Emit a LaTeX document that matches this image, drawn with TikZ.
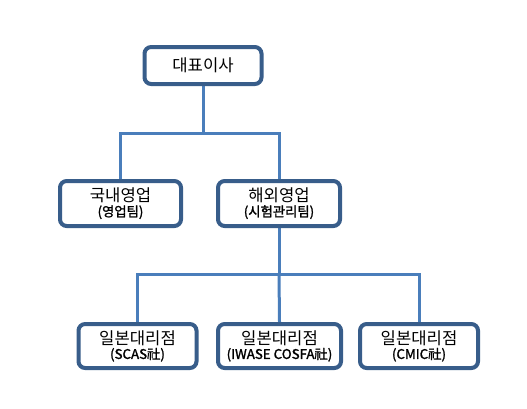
\documentclass[tikz,border=0pt]{standalone}
\usepackage{fontspec}
\setmainfont{Noto Sans CJK KR}[AutoFakeBold=1.5]
\usepackage{tikz}
\usetikzlibrary{calc, positioning, backgrounds}
\definecolor{boxblue}{HTML}{385D8A}
\definecolor{lineblue}{HTML}{4A7EBB}
\newcommand{\SubLbl}[1]{{\fontsize{10}{11}\selectfont\bfseries #1}}

\begin{document}
\begin{tikzpicture}[x=0.75pt, y=-0.75pt]
    \tikzset{
      orgbox/.style={
        draw=boxblue,
        line width=3pt,
        fill=white,
        rounded corners=5pt,
        align=center,
        inner sep=0pt,
        font=\fontsize{12.5}{13}\selectfont,
        % minimum width=90pt,
      },
      conn/.style={
        draw=lineblue,
        line width=2.25pt,
      }
    }
    \useasboundingbox (0,0) rectangle (527,408);

    % Levels
    \node[orgbox, minimum width=87.75pt, minimum height=27.75pt]
        (ceo) at (203,65.5) {대표이사};

    \node[orgbox, minimum width=90.75pt, minimum height=33.75pt]
        (dom) at (120.5,203.5) {국내영업\\[-2pt] \SubLbl{(영업팀)}};
    \node[orgbox, minimum width=91.5pt, minimum height=33.75pt]
        (ovs) at (279,203.5) {해외영업\\[-2pt] \SubLbl{(시험관리팀)}};

    \node[orgbox, minimum width=88.5pt, minimum height=33pt]
        (jpa) at (137.5,346) {일본대리점\\[-2pt] \SubLbl{(SCAS社)}};
    \node[orgbox, minimum width=92.25pt, minimum height=33pt]
        (jpb) at (279.5,346) {일본대리점\\[-2pt] \SubLbl{(IWASE COSFA社)}};
    \node[orgbox, minimum width=88.5pt, minimum height=33pt]
        (jpc) at (419,346) {일본대리점\\[-2pt] \SubLbl{(CMIC社)}};

    \coordinate (bus1) at (203,133);
    \coordinate (bus2) at (279,274);

    % Connectors
    \begin{scope}[on background layer]
    \draw[conn] (ceo.south) -- (bus1);
    \draw[conn] (dom.north) |- (bus1) -| (ovs.north);
    \draw[conn] (ovs.south) -- (bus2);
    \draw[conn] (jpa.north) |- (bus2) -| (jpc.north);
    \draw[conn] (bus2) -- (jpb.north);
    \end{scope}
\end{tikzpicture}
\end{document}
